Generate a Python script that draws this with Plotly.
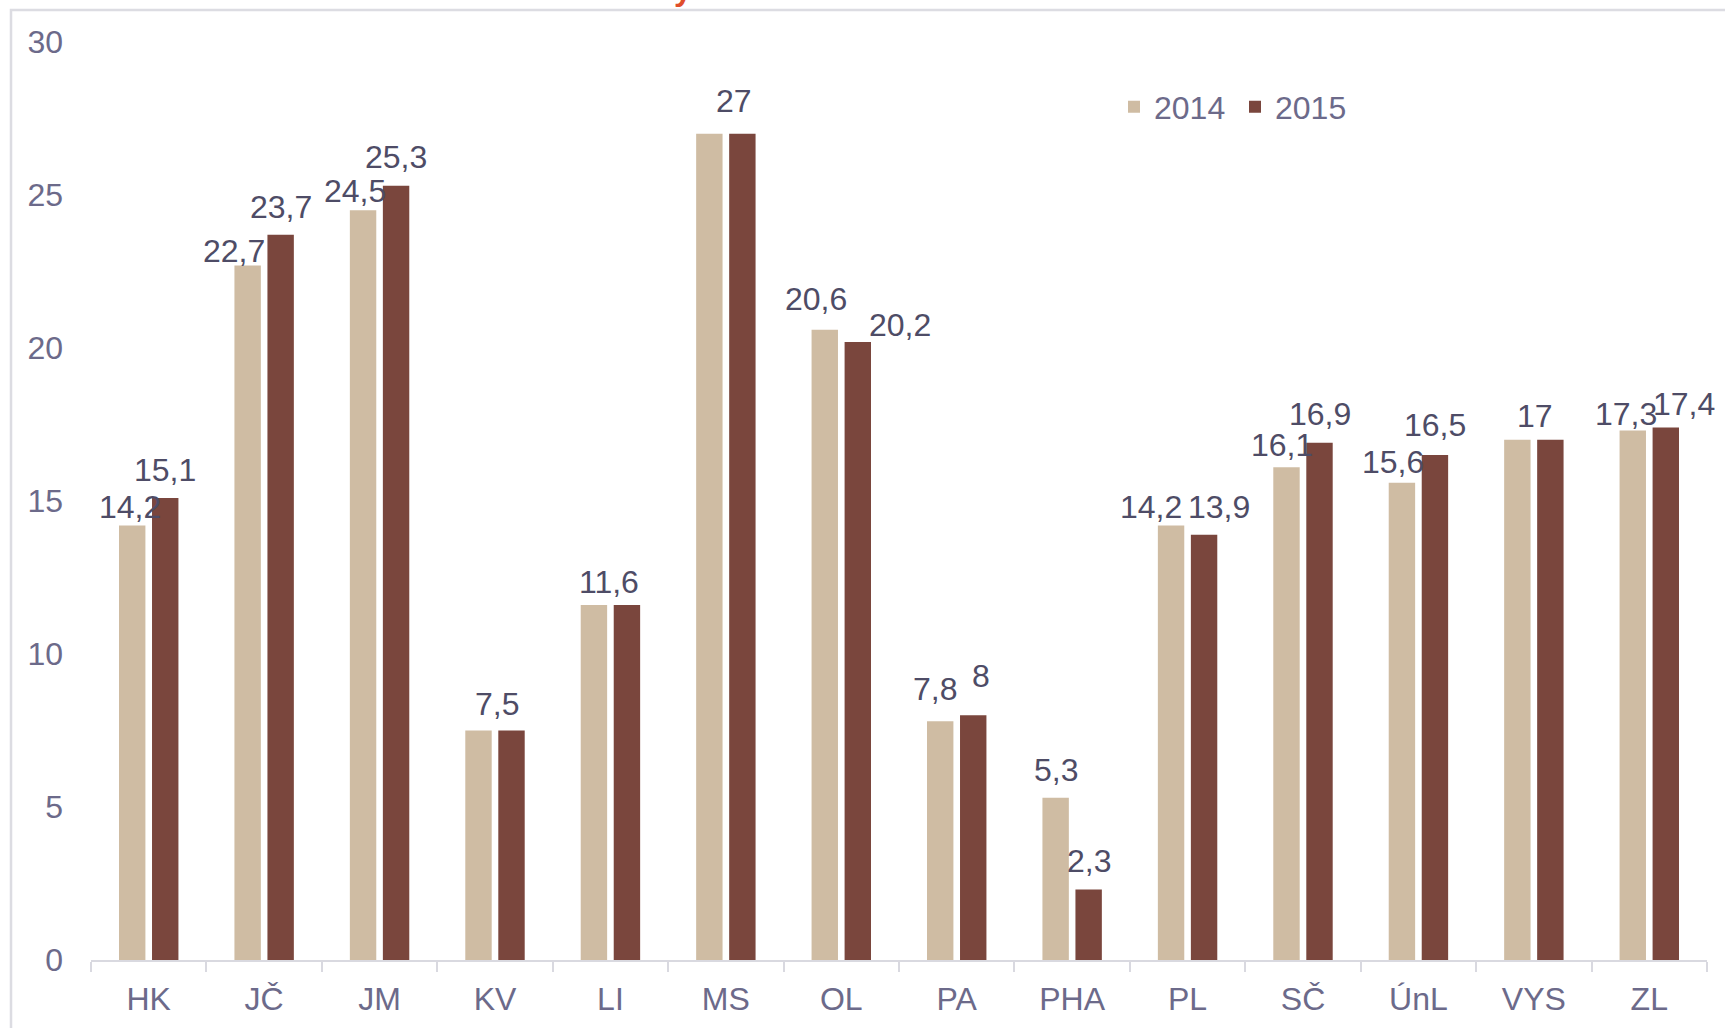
import plotly.graph_objects as go

# ---- data ----
categories = ["HK", "JČ", "JM", "KV", "LI", "MS", "OL", "PA", "PHA", "PL", "SČ", "ÚnL", "VYS", "ZL"]
values_2014 = [14.2, 22.7, 24.5, 7.5, 11.6, 27, 20.6, 7.8, 5.3, 14.2, 16.1, 15.6, 17, 17.3]
values_2015 = [15.1, 23.7, 25.3, 7.5, 11.6, 27, 20.2, 8, 2.3, 13.9, 16.9, 16.5, 17, 17.4]
series_names = ["2014", "2015"]
y_ticks = [0, 5, 10, 15, 20, 25, 30]

# ---- style: label visibility and nudges (pixels) ----
show_2014 = [True, True, True, False, False, False, True, True, True, True, True, True, False, True]
show_2015 = [True] * 14
nudge_x_2014 = [-2, -12, -7, 0, 0, 0, -8, -5, 0, -18, -4, -8, 0, -6]
nudge_x_2015 = [0, 0, 0, -13, -16, -8, 38, 7, 0, 14, 0, 0, -14, 17]
nudge_y_2014 = [17, 13, 18, 0, 0, 0, 28, 29, 25, 17, 20, 19, 0, 15]
nudge_y_2015 = [25, 25, 26, 24, 21, 30, 15, 36, 26, 25, 26, 27, 22, 21]

COL_2014 = "#CFBCA3"
COL_2015 = "#7A463D"
TICK_COL = "#6C6A8A"
LABEL_COL = "#4E4C66"
AXIS_COL = "#D9D9E0"
FONT = "Liberation Sans, Arial, sans-serif"
FS = 32
SCALE = 1.1  # offsets measured on reduced image

W, H = 1725, 1028
L, R, T, B = 91, 18, 42, 68
plot_w = W - L - R
plot_h = H - T - B

fig = go.Figure()
fig.add_trace(go.Bar(name=series_names[0], x=categories, y=values_2014,
                     marker=dict(color=COL_2014, line=dict(width=0))))
fig.add_trace(go.Bar(name=series_names[1], x=categories, y=values_2015,
                     marker=dict(color=COL_2015, line=dict(width=0))))

bargap = 0.428
bargroupgap = 0.2
cat_w = plot_w / len(categories)
slot = cat_w * (1 - bargap) / 2
bar_off = slot / 2

def fmt(v):
    return f"{v:g}".replace(".", ",")

annotations = []
for i, c in enumerate(categories):
    for vals, shows, nx, ny, sign in [
        (values_2014, show_2014, nudge_x_2014, nudge_y_2014, -1),
        (values_2015, show_2015, nudge_x_2015, nudge_y_2015, 1),
    ]:
        if not shows[i]:
            continue
        annotations.append(dict(
            x=c, y=vals[i], xref="x", yref="y", text=fmt(vals[i]),
            showarrow=False, xanchor="center", yanchor="middle",
            xshift=sign * bar_off + nx[i] * SCALE,
            yshift=ny[i] * SCALE,
            font=dict(family=FONT, size=FS, color=LABEL_COL),
        ))

# cut-off red title fragment at top of the image
annotations.append(dict(
    x=(683 - L) / plot_w, y=(plot_h + T - 9) / plot_h, xref="paper", yref="paper",
    text="<b>y</b>", showarrow=False, xanchor="center", yanchor="bottom",
    font=dict(family=FONT, size=32, color="#E04E2B"),
))

fig.update_layout(
    width=W, height=H,
    margin=dict(l=L, r=R, t=T, b=B, autoexpand=False),
    paper_bgcolor="white", plot_bgcolor="white",
    barmode="group", bargap=bargap, bargroupgap=bargroupgap,
    font=dict(family=FONT, size=FS, color=TICK_COL),
    showlegend=True,
    legend=dict(
        orientation="h", x=(1114 - L) / plot_w, y=(plot_h + T - 107) / plot_h,
        xanchor="left", yanchor="middle",
        font=dict(family=FONT, size=FS, color=TICK_COL),
        bgcolor="rgba(0,0,0,0)", entrywidth=76, entrywidthmode="pixels",
        itemclick=False,
    ),
    xaxis=dict(
        automargin=False, autorange=False,
        range=[-0.5, len(categories) - 0.5],
        showline=True, linecolor=AXIS_COL, linewidth=2,
        ticks="outside", tickson="boundaries", ticklen=10, tickwidth=2,
        tickcolor=AXIS_COL, showgrid=False, zeroline=False,
        tickfont=dict(family=FONT, size=FS, color=TICK_COL),
        ticklabelstandoff=10,
    ),
    yaxis=dict(
        automargin=False,
        range=[0, 30], tickvals=y_ticks, showgrid=False, zeroline=False,
        showline=False, ticks="", ticklabelstandoff=27,
        tickfont=dict(family=FONT, size=FS, color=TICK_COL),
    ),
    annotations=annotations,
    shapes=[dict(
        type="rect", xref="paper", yref="paper",
        x0=(11 - L) / plot_w, x1=(W + 10 - L) / plot_w,
        y0=(plot_h + T - (H + 10)) / plot_h, y1=(plot_h + T - 10) / plot_h,
        line=dict(color="#DCDCE2", width=2.5), fillcolor="rgba(0,0,0,0)",
        layer="below",
    )],
)

fig.write_html(
    "out.html",
    config={"displayModeBar": False},
    post_script="document.body.style.margin='0';document.body.style.overflow='hidden';",
)
